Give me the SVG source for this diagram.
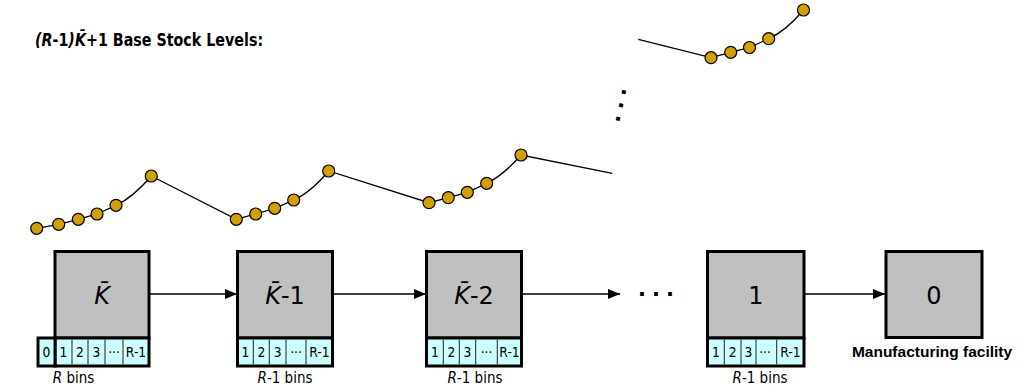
<svg xmlns="http://www.w3.org/2000/svg" width="1018" height="389" viewBox="0 0 1018 389">
  <style>
    .title { font-family: "DejaVu Sans", Verdana, sans-serif; font-weight: bold; font-size: 17px; fill: #000; }
    .node { fill: #C0C0C0; stroke: #000; stroke-width: 3; }
    .binrow { fill: #CCFFFF; stroke: #000; stroke-width: 3; }
    .div { stroke: #222; stroke-width: 1; }
    .lbl { font-family: "DejaVu Sans", Verdana, sans-serif; font-size: 24px; fill: #000; text-anchor: middle; }
    .bin { font-family: "DejaVu Sans", Verdana, sans-serif; font-size: 14px; fill: #000; text-anchor: middle; }
    .cap { font-family: "DejaVu Sans", Verdana, sans-serif; font-size: 15px; fill: #000; text-anchor: middle; }
    .mf { font-family: "Liberation Sans", Arial, sans-serif; font-weight: bold; font-size: 15.5px; fill: #000; text-anchor: middle; }
    .it { font-style: italic; }
    .conn { stroke: #000; stroke-width: 1.3; fill: none; }
    .trace { stroke: #000; stroke-width: 1.3; fill: none; }
    .bead { fill: #D4A000; stroke: #000; stroke-width: 1.2; }
    .dots { font-family: "DejaVu Sans", Verdana, sans-serif; font-weight: bold; font-size: 21px; fill: #000; text-anchor: middle; }
  </style>
  <defs>
    <marker id="arrow" markerUnits="userSpaceOnUse" markerWidth="12" markerHeight="10" refX="12" refY="5" orient="auto">
      <path d="M0,0 L12,5 L0,10 z" fill="#000"/>
    </marker>
  </defs>

  <rect width="1018" height="389" fill="#fff"/>

  <!-- heading -->
  <text class="title" transform="translate(35,46) scale(0.84,1)"><tspan class="it">(R</tspan>-1<tspan class="it">)K̄</tspan>+1 Base Stock Levels:</text>

  <!-- base-stock traces -->
  <g id="traces">
    <path class="trace" d="M36.7,228.3 L58.7,224.3 L78.3,219.3 L97,214 L116,205.3 Q133,197.5 151.3,176 L236.3,219.3 L255.7,214 L274.7,208.3 L293.7,200 Q310,193 328.7,171 L429,202.7 L448.3,197.7 L467.3,192.3 L486.7,183.3 Q503,175.5 521,155 L612.3,173.3"/>
    <path class="trace" d="M638.3,39.3 L711,57.7 L730.7,52.3 L749.5,47.5 L768.7,38.7 Q786,31 803.5,10"/>
    <g>
      <circle class="bead" cx="36.7" cy="228.3" r="6"/>
      <circle class="bead" cx="58.7" cy="224.3" r="6"/>
      <circle class="bead" cx="78.3" cy="219.3" r="6"/>
      <circle class="bead" cx="97" cy="214" r="6"/>
      <circle class="bead" cx="116" cy="205.3" r="6"/>
      <circle class="bead" cx="151.3" cy="176" r="6"/>
      <circle class="bead" cx="236.3" cy="219.3" r="6"/>
      <circle class="bead" cx="255.7" cy="214" r="6"/>
      <circle class="bead" cx="274.7" cy="208.3" r="6"/>
      <circle class="bead" cx="293.7" cy="200" r="6"/>
      <circle class="bead" cx="328.7" cy="171" r="6"/>
      <circle class="bead" cx="429" cy="202.7" r="6"/>
      <circle class="bead" cx="448.3" cy="197.7" r="6"/>
      <circle class="bead" cx="467.3" cy="192.3" r="6"/>
      <circle class="bead" cx="486.7" cy="183.3" r="6"/>
      <circle class="bead" cx="521" cy="155" r="6"/>
      <circle class="bead" cx="711" cy="57.7" r="6"/>
      <circle class="bead" cx="730.7" cy="52.3" r="6"/>
      <circle class="bead" cx="749.5" cy="47.5" r="6"/>
      <circle class="bead" cx="768.7" cy="38.7" r="6"/>
      <circle class="bead" cx="803.5" cy="10" r="6"/>
    </g>
    <!-- vertical ellipsis between trace rows -->
    <g transform="translate(621.3,105.5) rotate(102.5)">
      <text class="dots" x="-13.7 0 13.7" y="2.3">...</text>
    </g>
  </g>

  <!-- connectors -->
  <g id="connectors">
    <line class="conn" x1="150" y1="294" x2="237" y2="294" marker-end="url(#arrow)"/>
    <line class="conn" x1="333" y1="294" x2="426" y2="294" marker-end="url(#arrow)"/>
    <line class="conn" x1="522" y1="294" x2="620" y2="294" marker-end="url(#arrow)"/>
    <line class="conn" x1="805" y1="294" x2="885" y2="294" marker-end="url(#arrow)"/>
    <text class="dots" x="642 656 670" y="296.3">...</text>
  </g>

  <!-- stage K -->
  <g id="stage-k">
    <rect class="node" x="55" y="251.5" width="94" height="86.5"/>
    <rect class="binrow" x="55" y="338" width="94" height="28"/>
    <rect class="binrow" x="38" y="338" width="17" height="28"/>
    <line class="div" x1="72" y1="339.5" x2="72" y2="364.5"/>
    <line class="div" x1="88" y1="339.5" x2="88" y2="364.5"/>
    <line class="div" x1="105" y1="339.5" x2="105" y2="364.5"/>
    <line class="div" x1="123" y1="339.5" x2="123" y2="364.5"/>
    <text class="lbl" x="102" y="304"><tspan class="it">K̄</tspan></text>
    <text class="bin" transform="translate(46.5,357) scale(0.88,1)">0</text>
    <text class="bin" transform="translate(63.5,357) scale(0.88,1)">1</text>
    <text class="bin" transform="translate(80,357) scale(0.88,1)">2</text>
    <text class="bin" transform="translate(96.5,357) scale(0.88,1)">3</text>
    <text class="bin" transform="translate(114,357) scale(0.88,1)">···</text>
    <text class="bin" transform="translate(136,357) scale(0.88,1)">R-1</text>
    <text class="cap" transform="translate(73.5,383) scale(0.9,1)"><tspan class="it">R</tspan> bins</text>
  </g>

  <!-- stage K-1 -->
  <g id="stage-k-1">
    <rect class="node" x="237.5" y="251.5" width="95" height="86.5"/>
    <rect class="binrow" x="237.5" y="338" width="95" height="28"/>
    <line class="div" x1="253.3" y1="339.5" x2="253.3" y2="364.5"/>
    <line class="div" x1="269.3" y1="339.5" x2="269.3" y2="364.5"/>
    <line class="div" x1="286" y1="339.5" x2="286" y2="364.5"/>
    <line class="div" x1="306" y1="339.5" x2="306" y2="364.5"/>
    <text class="lbl" x="285" y="304"><tspan class="it">K̄</tspan>-1</text>
    <text class="bin" transform="translate(245.4,357) scale(0.88,1)">1</text>
    <text class="bin" transform="translate(261.3,357) scale(0.88,1)">2</text>
    <text class="bin" transform="translate(277.7,357) scale(0.88,1)">3</text>
    <text class="bin" transform="translate(296,357) scale(0.88,1)">···</text>
    <text class="bin" transform="translate(319.3,357) scale(0.88,1)">R-1</text>
    <text class="cap" transform="translate(285,383) scale(0.9,1)"><tspan class="it">R</tspan>-1 bins</text>
  </g>

  <!-- stage K-2 -->
  <g id="stage-k-2">
    <rect class="node" x="426.5" y="251.5" width="95" height="86.5"/>
    <rect class="binrow" x="426.5" y="338" width="95" height="28"/>
    <line class="div" x1="443.3" y1="339.5" x2="443.3" y2="364.5"/>
    <line class="div" x1="459.3" y1="339.5" x2="459.3" y2="364.5"/>
    <line class="div" x1="475.7" y1="339.5" x2="475.7" y2="364.5"/>
    <line class="div" x1="497.3" y1="339.5" x2="497.3" y2="364.5"/>
    <text class="lbl" x="474" y="304"><tspan class="it">K̄</tspan>-2</text>
    <text class="bin" transform="translate(434.9,357) scale(0.88,1)">1</text>
    <text class="bin" transform="translate(451.3,357) scale(0.88,1)">2</text>
    <text class="bin" transform="translate(467.5,357) scale(0.88,1)">3</text>
    <text class="bin" transform="translate(486.5,357) scale(0.88,1)">···</text>
    <text class="bin" transform="translate(509.5,357) scale(0.88,1)">R-1</text>
    <text class="cap" transform="translate(475,383) scale(0.9,1)"><tspan class="it">R</tspan>-1 bins</text>
  </g>

  <!-- stage 1 -->
  <g id="stage-1">
    <rect class="node" x="707.5" y="251.5" width="96.5" height="86.5"/>
    <rect class="binrow" x="707.5" y="338" width="96.5" height="28"/>
    <line class="div" x1="724.3" y1="339.5" x2="724.3" y2="364.5"/>
    <line class="div" x1="741" y1="339.5" x2="741" y2="364.5"/>
    <line class="div" x1="756" y1="339.5" x2="756" y2="364.5"/>
    <line class="div" x1="776.7" y1="339.5" x2="776.7" y2="364.5"/>
    <text class="lbl" x="756" y="304">1</text>
    <text class="bin" transform="translate(716,357) scale(0.88,1)">1</text>
    <text class="bin" transform="translate(732.7,357) scale(0.88,1)">2</text>
    <text class="bin" transform="translate(748.5,357) scale(0.88,1)">3</text>
    <text class="bin" transform="translate(765,357) scale(0.88,1)">···</text>
    <text class="bin" transform="translate(790.4,357) scale(0.88,1)">R-1</text>
    <text class="cap" transform="translate(760,383) scale(0.9,1)"><tspan class="it">R</tspan>-1 bins</text>
  </g>

  <!-- stage 0: manufacturing facility -->
  <g id="stage-0">
    <rect class="node" x="886" y="251.5" width="96" height="86"/>
    <text class="lbl" x="934" y="304">0</text>
    <text class="mf" x="932" y="357">Manufacturing facility</text>
  </g>
</svg>
